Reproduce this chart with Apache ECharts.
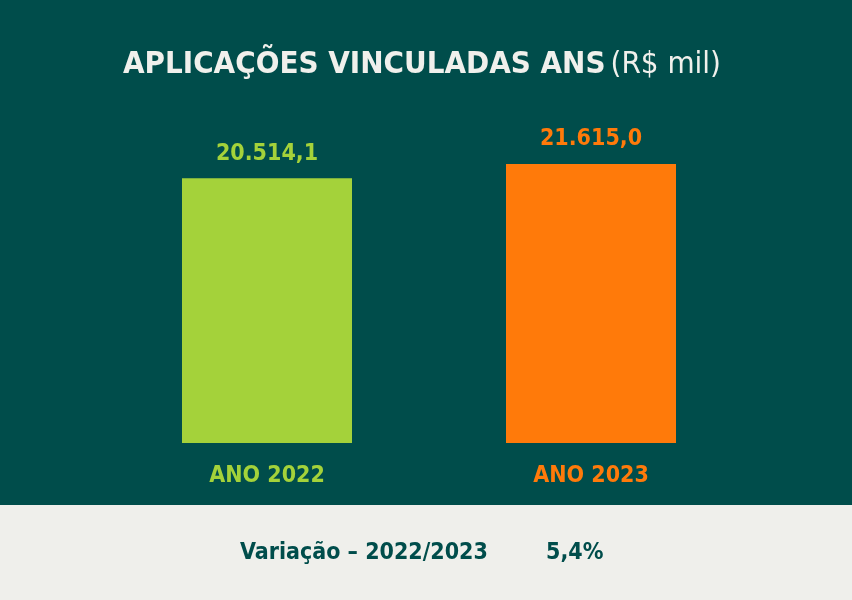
<!DOCTYPE html>
<html>
<head>
<meta charset="utf-8">
<script src="https://cdn.jsdelivr.net/npm/echarts@6/dist/echarts.min.js"></script>
<style>
  html, body { margin: 0; padding: 0; background: #004d4b; }
  #chart { width: 852px; height: 600px; }
</style>
</head>
<body>
<div id="chart"></div>
<script>
// data
const categories = ['ANO 2022', 'ANO 2023'];
const values = [20514.1, 21615.0];
const variationLabel = 'Variação – 2022/2023';
const variationValue = '5,4%';

const theme = {
  bg: '#004d4b',
  strip: '#efefeb',
  title: '#f0f0ec',
  dark: '#004d4b',
  bars: ['#a4d23a', '#ff7a0a'],
  font: '"Liberation Sans Narrow", "DejaVu Sans Condensed", "Noto Sans", sans-serif',
};

function fmtBR(v) {
  const parts = v.toFixed(1).split('.');
  const int = parts[0].replace(/\B(?=(\d{3})+(?!\d))/g, '.');
  return int + ',' + parts[1];
}

const chart = echarts.init(document.getElementById('chart'));
chart.setOption({
  backgroundColor: theme.bg,
  animation: false,
  title: {
    text: '{b|APLICAÇÕES VINCULADAS ANS} {r|(R$ mil)}',
    left: 118,
    top: 44,
    textStyle: {
      rich: {
        b: { fontFamily: theme.font, fontWeight: 'bold', fontSize: 31, color: theme.title },
        r: { fontFamily: theme.font, fontWeight: 'normal', fontSize: 31, color: theme.title },
      },
    },
  },
  grid: { left: 105, right: 99, top: 164, bottom: 157 },
  xAxis: {
    type: 'category',
    data: categories,
    axisLine: { show: false },
    axisTick: { show: false },
    axisLabel: {
      margin: 22,
      fontFamily: theme.font,
      fontWeight: 'bold',
      fontSize: 23,
      color: (val, idx) => theme.bars[idx],
    },
  },
  yAxis: {
    type: 'value',
    min: 0,
    max: 'dataMax',
    show: false,
    splitLine: { show: false },
  },
  series: [{
    type: 'bar',
    barWidth: 170,
    data: values.map((v, i) => ({
      value: v,
      itemStyle: { color: theme.bars[i] },
      label: { color: theme.bars[i] },
    })),
    label: {
      show: true,
      position: 'top',
      distance: 13,
      fontFamily: theme.font,
      fontWeight: 'bold',
      fontSize: 23,
      formatter: p => fmtBR(p.value),
    },
  }],
  graphic: [
    {
      type: 'rect',
      left: 0,
      top: 505,
      shape: { width: 852, height: 95 },
      style: { fill: theme.strip },
      z: -1,
    },
    {
      type: 'text',
      left: 240,
      top: 542,
      style: {
        text: variationLabel,
        fontFamily: theme.font,
        fontWeight: 'bold',
        fontSize: 23,
        fill: theme.dark,
      },
    },
    {
      type: 'text',
      left: 546,
      top: 542,
      style: {
        text: variationValue,
        fontFamily: theme.font,
        fontWeight: 'bold',
        fontSize: 23,
        fill: theme.dark,
      },
    },
  ],
});

window.addEventListener('resize', () => chart.resize());
</script>
</body>
</html>
